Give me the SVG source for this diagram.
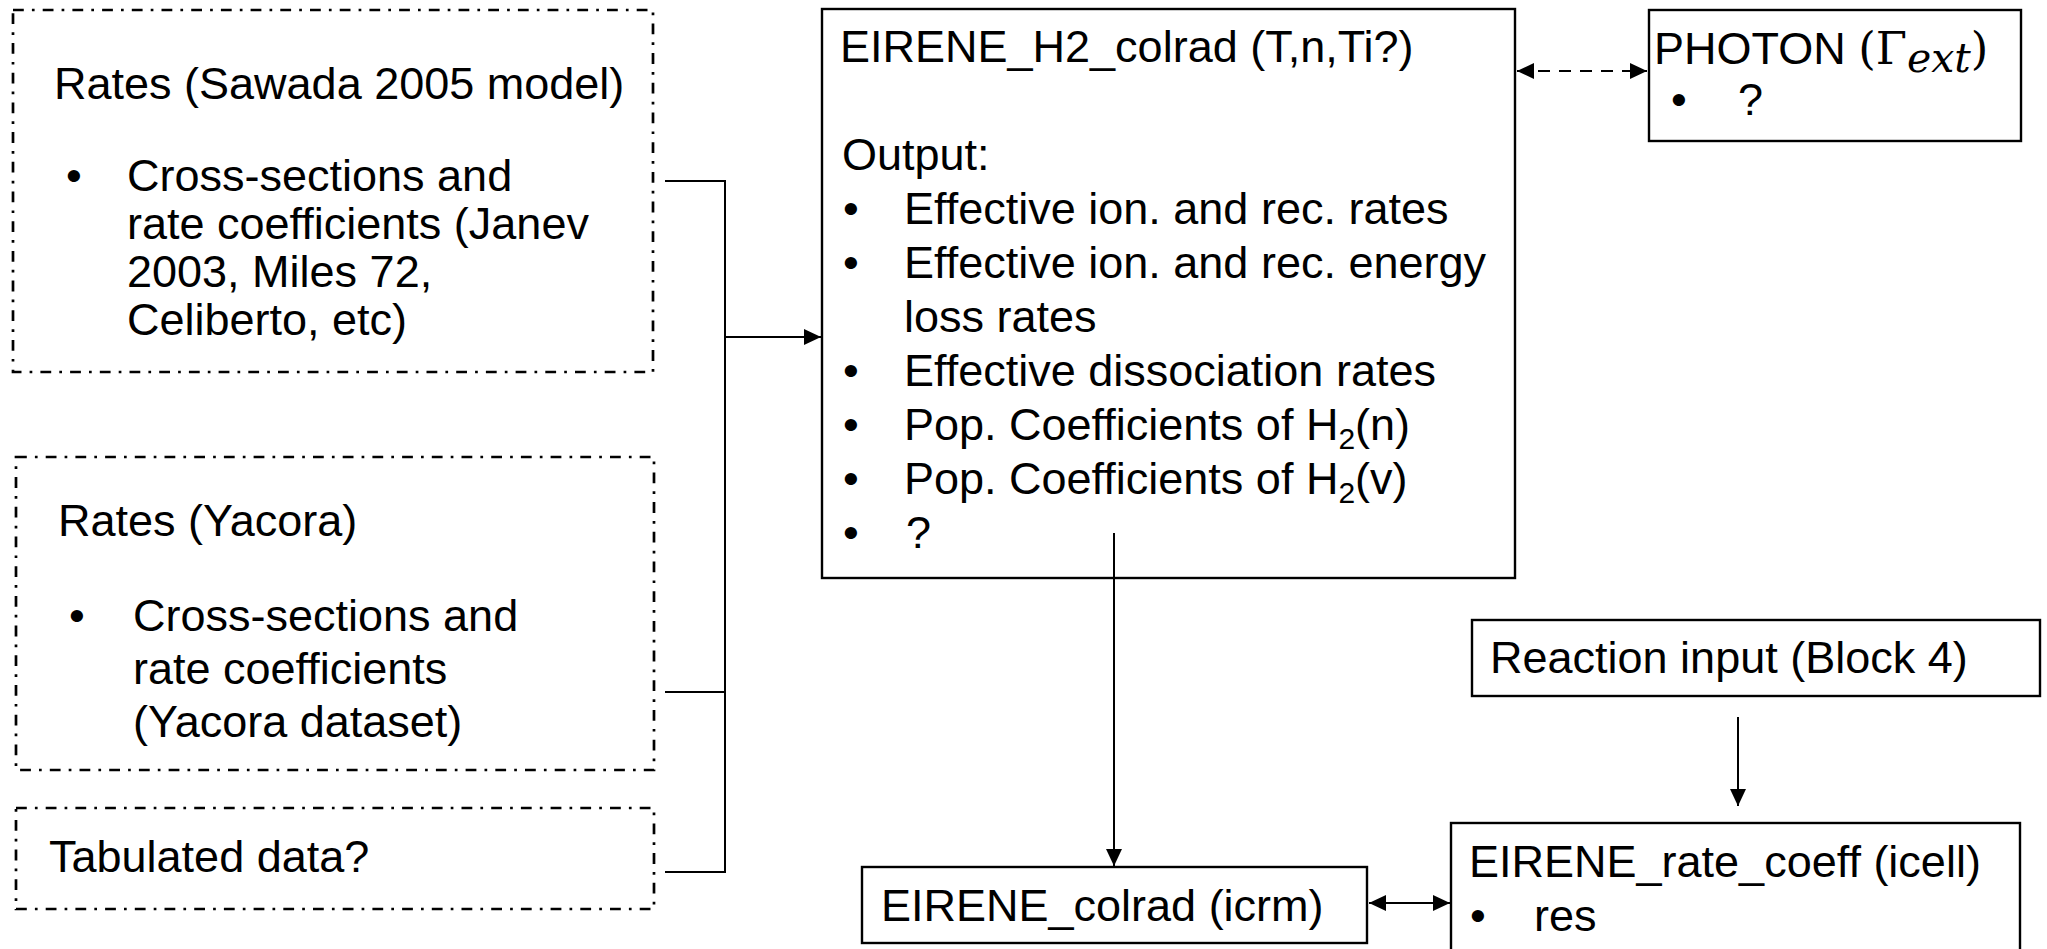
<svg xmlns="http://www.w3.org/2000/svg" width="2047" height="949" viewBox="0 0 2047 949">
<style>
.t{font-family:"Liberation Sans",Arial,sans-serif;font-size:45px;fill:#000}
.b{font-family:"Liberation Sans",Arial,sans-serif;font-size:45px;fill:#000;text-anchor:middle}
.m{font-family:"DejaVu Serif","Liberation Serif",serif}
.dd{fill:none;stroke:#000;stroke-width:2.7;stroke-dasharray:10.8 8.1 2.7 8.1}
.box{fill:#fff;stroke:#000;stroke-width:2.4}
.ln{fill:none;stroke:#000;stroke-width:2}
.dash{fill:none;stroke:#000;stroke-width:2;stroke-dasharray:12 9}
</style>
<defs>
<marker id="ah" viewBox="0 0 17 16" refX="17" refY="8" markerWidth="17" markerHeight="16" markerUnits="userSpaceOnUse" orient="auto-start-reverse">
<path d="M0,0 L17,8 L0,16 Z" fill="#000"/>
</marker>
</defs>

<g id="node-sawada">
<rect class="dd" x="13" y="10" width="640" height="362"/>
<text class="t" x="54" y="99">Rates (Sawada 2005 model)</text>
<text class="b" x="74" y="191">•</text>
<text class="t" x="127" y="191">Cross-sections and</text>
<text class="t" x="127" y="239">rate coefficients (Janev</text>
<text class="t" x="127" y="287">2003, Miles 72,</text>
<text class="t" x="127" y="335">Celiberto, etc)</text>
</g>

<g id="node-yacora">
<rect class="dd" x="16" y="457" width="638" height="313"/>
<text class="t" x="58" y="536">Rates (Yacora)</text>
<text class="b" x="77" y="631">•</text>
<text class="t" x="133" y="631">Cross-sections and</text>
<text class="t" x="133" y="684">rate coefficients</text>
<text class="t" x="133" y="737">(Yacora dataset)</text>
</g>

<g id="node-tabulated">
<rect class="dd" x="16" y="808" width="638" height="101"/>
<text class="t" x="49" y="872">Tabulated data?</text>
</g>

<g id="node-h2colrad">
<rect class="box" x="822" y="9" width="693" height="569"/>
<text class="t" x="840" y="62">EIRENE_H2_colrad (T,n,Ti?)</text>
<text class="t" x="842" y="170">Output:</text>
<text class="b" x="851" y="224">•</text>
<text class="t" x="904" y="224">Effective ion. and rec. rates</text>
<text class="b" x="851" y="278">•</text>
<text class="t" x="904" y="278">Effective ion. and rec. energy</text>
<text class="t" x="904" y="332">loss rates</text>
<text class="b" x="851" y="386">•</text>
<text class="t" x="904" y="386">Effective dissociation rates</text>
<text class="b" x="851" y="440">•</text>
<text class="t" x="904" y="440">Pop. Coefficients of H<tspan font-size="30" dy="9">2</tspan><tspan dy="-9">(n)</tspan></text>
<text class="b" x="851" y="494">•</text>
<text class="t" x="904" y="494">Pop. Coefficients of H<tspan font-size="30" dy="9">2</tspan><tspan dy="-9">(v)</tspan></text>
<text class="b" x="851" y="548">•</text>
<text class="t" x="906" y="548">?</text>
</g>

<g id="node-photon">
<rect class="box" x="1649" y="10" width="372" height="131"/>
<text class="t" x="1654" y="64">PHOTON <tspan class="m">(Γ</tspan><tspan class="m" font-style="italic" font-size="41" dy="8">ext</tspan><tspan class="m" dy="-8">)</tspan></text>
<text class="b" x="1679" y="115">•</text>
<text class="t" x="1738" y="115">?</text>
</g>

<g id="node-reaction">
<rect class="box" x="1472" y="620" width="568" height="76"/>
<text class="t" x="1490" y="673">Reaction input (Block 4)</text>
</g>

<g id="node-colrad">
<rect class="box" x="862" y="867" width="505" height="76"/>
<text class="t" x="881" y="921">EIRENE_colrad (icrm)</text>
</g>

<g id="node-ratecoeff">
<rect class="box" x="1451" y="823" width="569" height="140"/>
<text class="t" x="1469" y="877">EIRENE_rate_coeff (icell)</text>
<text class="b" x="1478" y="931">•</text>
<text class="t" x="1534" y="931">res</text>
</g>

<g id="connectors">
<path class="ln" d="M665,181 H725 V872 H665 M665,692 H725"/>
<path class="ln" d="M725,337 H821" marker-end="url(#ah)"/>
<path class="dash" d="M1517,71 H1647" marker-start="url(#ah)" marker-end="url(#ah)"/>
<path class="ln" d="M1114,533 V866" marker-end="url(#ah)"/>
<path class="ln" d="M1738,717 V806" marker-end="url(#ah)"/>
<path class="ln" d="M1369,903 H1450" marker-start="url(#ah)" marker-end="url(#ah)"/>
</g>
</svg>
